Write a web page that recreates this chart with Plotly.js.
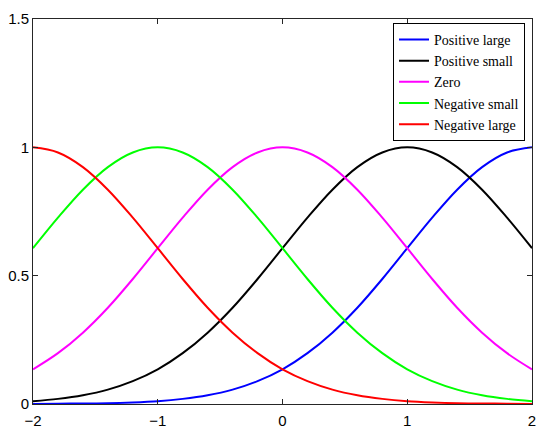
<!DOCTYPE html>
<html>
<head>
<meta charset="utf-8">
<script src="https://cdn.plot.ly/plotly-3.0.1.min.js"></script>
<style>html,body{margin:0;padding:0;background:#fff;}#chart{width:550px;height:440px;}</style>
</head>
<body>
<div id="chart"></div>
<script>
var xValues = [-2,-1.8,-1.6,-1.4,-1.2,-1,-0.8,-0.6,-0.4,-0.2,0,0.2,0.4,0.6,0.8,1,1.2,1.4,1.6,1.8,2];
var seriesNames = ["Positive large","Positive small","Zero","Negative small","Negative large"];
var positiveLarge = [0.000,0.001,0.002,0.003,0.006,0.011,0.020,0.034,0.056,0.089,0.135,0.198,0.278,0.375,0.487,0.607,0.726,0.835,0.923,0.980,1.000];
var positiveSmall = [0.011,0.020,0.034,0.056,0.089,0.135,0.198,0.278,0.375,0.487,0.607,0.726,0.835,0.923,0.980,1.000,0.980,0.923,0.835,0.726,0.607];
var zero = [0.135,0.198,0.278,0.375,0.487,0.607,0.726,0.835,0.923,0.980,1.000,0.980,0.923,0.835,0.726,0.607,0.487,0.375,0.278,0.198,0.135];
var negativeSmall = [0.607,0.726,0.835,0.923,0.980,1.000,0.980,0.923,0.835,0.726,0.607,0.487,0.375,0.278,0.198,0.135,0.089,0.056,0.034,0.020,0.011];
var negativeLarge = [1.000,0.980,0.923,0.835,0.726,0.607,0.487,0.375,0.278,0.198,0.135,0.089,0.056,0.034,0.020,0.011,0.006,0.003,0.002,0.001,0.000];
var xTicks = [-2,-1,0,1,2];
var xTickText = ["\u22122","\u22121","0","1","2"];
var yTicks = [0,0.5,1,1.5];
var yTickText = ["0","0.5","1","1.5"];

var seriesValues = [positiveLarge, positiveSmall, zero, negativeSmall, negativeLarge];
var colors = ["#0000ff","#000000","#ff00ff","#00ff00","#ff0000"];
var traces = seriesValues.map(function(v, i){
  return {x: xValues, y: v, name: seriesNames[i], type: "scatter", mode: "lines",
          line: {color: colors[i], width: 2, shape: "spline"}};
});
var axisCommon = {showgrid: false, zeroline: false, showline: true, mirror: "ticks",
  linecolor: "#262626", linewidth: 1, ticks: "inside", ticklen: 5, tickcolor: "#262626",
  tickfont: {family: "Liberation Sans, Arial, sans-serif", size: 15, color: "#000"}};
var layout = {
  width: 550, height: 440,
  margin: {l: 33, r: 18, t: 19, b: 36, pad: 0},
  paper_bgcolor: "#fff", plot_bgcolor: "#fff",
  xaxis: Object.assign({}, axisCommon, {range: [-2, 2], tickvals: xTicks, ticktext: xTickText, ticklabelstandoff: 3}),
  yaxis: Object.assign({}, axisCommon, {range: [0, 1.5], tickvals: yTicks, ticktext: yTickText}),
  showlegend: true,
  legend: {x: 0.986, y: 0.99, xanchor: "right", yanchor: "top",
    bgcolor: "#fff", bordercolor: "#000", borderwidth: 1,
    font: {family: "Liberation Serif, Times New Roman, serif", size: 14, color: "#000"},
    tracegroupgap: 0, itemwidth: 30}
};
Plotly.newPlot("chart", traces, layout, {displayModeBar: false, staticPlot: true});
</script>
</body>
</html>
